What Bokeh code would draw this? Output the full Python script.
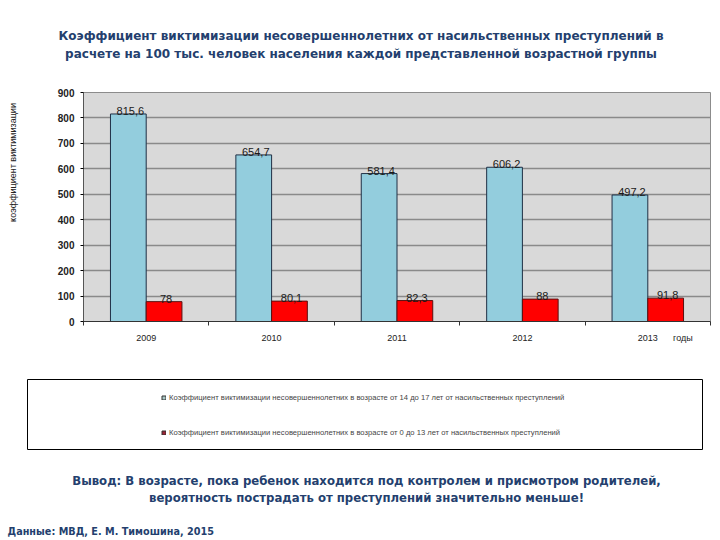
import numpy as np
from bokeh.plotting import figure
from bokeh.models import ColumnDataSource, Range1d, FixedTicker, Legend, LegendItem
from bokeh.transform import dodge
from bokeh.layouts import column, row
from bokeh.embed import file_html
from bokeh.resources import INLINE
from bokeh.core.properties import value

# ---------------- data ----------------
years = ["2009", "2010", "2011", "2012", "2013"]
teen_rate = [815.6, 654.7, 581.4, 606.2, 497.2]     # 14-17 лет
child_rate = [78, 80.1, 82.3, 88, 91.8]             # 0-13 лет
y_ticks = [0, 100, 200, 300, 400, 500, 600, 700, 800, 900]

title_lines = [
    "Коэффициент виктимизации несовершеннолетних от насильственных преступлений в",
    "расчете на 100 тыс. человек населения каждой представленной возрастной группы",
]
legend_labels = [
    "Коэффициент виктимизации несовершеннолетних в возрасте от 14 до 17 лет от насильственных преступлений",
    "Коэффициент виктимизации несовершеннолетних в возрасте от 0 до 13 лет от насильственных преступлений",
]
conclusion_lines = [
    "Вывод: В возрасте, пока ребенок находится под контролем и присмотром родителей,",
    "вероятность пострадать от преступлений значительно меньше!",
]
source_note = "Данные: МВД, Е. М. Тимошина, 2015"
y_axis_title = "коэффициент виктимизации"
x_axis_title = "годы"

# ---------------- styles ----------------
W = 720
HEAD_COLOR = "#243f6e"
HEAD_FONT = value("DejaVu Sans")
BODY_FONT_NAME = "Liberation Sans"
BODY_FONT = value(BODY_FONT_NAME)
BLUE = "#93cddd"
RED = "#ff0000"
BAR_W = 0.285
X_TITLE_POS = 4.78   # where the "годы" caption sits along the category axis


def fmt(v):
    return ("%g" % v).replace(".", ",")


def no_align(fig):
    if "frame_align" in fig.properties():
        fig.frame_align = False
    return fig


def blank(width, height, **kw):
    f = figure(width=width, height=height, x_range=Range1d(0, width), y_range=Range1d(0, height),
               x_axis_type=None, y_axis_type=None, min_border=0,
               output_backend="svg", toolbar_location=None, outline_line_color=None, **kw)
    return no_align(f)


# ---------------- title ----------------
tf = blank(W, 80)
tf.text(x=[360.5, 360.5], y=[45, 27], text=title_lines, text_font=HEAD_FONT,
        text_font_style="bold", text_font_size="12px", text_align="center",
        text_baseline="middle", text_color=HEAD_COLOR)

# ---------------- y axis caption ----------------
yl = blank(20, 272)
yl.text(x=[12], y=[190], text=[y_axis_title], angle=90, angle_units="deg",
        text_align="center", text_baseline="middle", text_font=BODY_FONT,
        text_font_size="9px", text_color="#222222")

# ---------------- main chart ----------------
centers = [i + 0.5 for i in range(len(years))]
src = ColumnDataSource(dict(
    x=centers, teen=teen_rate, child=child_rate,
    teen_lbl=[fmt(v) for v in teen_rate], child_lbl=[fmt(v) for v in child_rate],
))

p = figure(width=W - 20, height=272, x_range=Range1d(0, len(years)), y_range=Range1d(0, 900),
           output_backend="svg", toolbar_location=None,
           min_border_left=63, min_border_right=10, min_border_top=12, min_border_bottom=31,
           background_fill_color="#d9d9d9", outline_line_color="#8c8c8c")
no_align(p)

p.vbar(x=dodge("x", -BAR_W / 2), top="teen", width=BAR_W, source=src,
       fill_color=BLUE, line_color="#1f2f45", line_width=1)
p.vbar(x=dodge("x", BAR_W / 2), top="child", width=BAR_W, source=src,
       fill_color=RED, line_color="#5a1010", line_width=1)

p.text(x=dodge("x", -BAR_W / 2), y="teen", text="teen_lbl", source=src,
       text_align="center", text_baseline="bottom", y_offset=1, x_offset=2,
       text_font=BODY_FONT, text_font_size="11px", text_color="#1a1a1a")
p.text(x=dodge("x", BAR_W / 2), y="child", text="child_lbl", source=src,
       text_align="center", text_baseline="bottom", y_offset=1, x_offset=2,
       text_font=BODY_FONT, text_font_size="11px", text_color="#1a1a1a")

p.xgrid.visible = False
p.ygrid.ticker = FixedTicker(ticks=y_ticks)
p.ygrid.grid_line_color = "#8a8a8a"
p.ygrid.grid_line_width = 1.5

p.yaxis.ticker = FixedTicker(ticks=y_ticks)
p.yaxis.major_tick_out = 3
p.yaxis.major_tick_in = 0
p.yaxis.minor_tick_line_color = None
p.yaxis.major_label_standoff = 6
p.yaxis.major_label_text_font = BODY_FONT_NAME
p.yaxis.major_label_text_font_size = "10px"
p.yaxis.major_label_text_font_style = "bold"
p.yaxis.major_label_text_color = "#222222"
p.yaxis.axis_line_color = "#555555"

label_map = {c: y for c, y in zip(centers, years)}
label_map[X_TITLE_POS] = x_axis_title
p.xaxis.ticker = FixedTicker(ticks=centers + [X_TITLE_POS],
                             minor_ticks=list(range(len(years) + 1)))
p.xaxis.major_label_overrides = label_map
p.xaxis.major_tick_line_color = None
p.xaxis.major_tick_out = 0
p.xaxis.major_tick_in = 0
p.xaxis.minor_tick_out = 4
p.xaxis.minor_tick_in = 0
p.xaxis.minor_tick_line_color = "#333333"
p.xaxis.major_label_standoff = 7
p.xaxis.major_label_text_font = BODY_FONT_NAME
p.xaxis.major_label_text_font_size = "9px"
p.xaxis.major_label_text_color = "#222222"
p.xaxis.axis_line_color = "#333333"

# ---------------- legend box ----------------
lf = figure(width=W, height=108, x_range=Range1d(0, 1), y_range=Range1d(0, 1),
            x_axis_type=None, y_axis_type=None,
            min_border_left=27, min_border_right=18, min_border_top=27, min_border_bottom=11,
            output_backend="svg", toolbar_location=None,
            outline_line_color="black", outline_line_width=1)
no_align(lf)
nan = np.array([np.nan])
r1 = lf.vbar(x=nan, top=nan, width=0.1, fill_color="#a8c6c4", line_color="#333333")
r2 = lf.vbar(x=nan, top=nan, width=0.1, fill_color="#9b2335", line_color="#333333")
legend = Legend(items=[LegendItem(label=legend_labels[0], renderers=[r1]),
                       LegendItem(label=legend_labels[1], renderers=[r2])],
                location=(134, 12), padding=0, margin=0, border_line_color=None,
                background_fill_alpha=0, glyph_width=5, glyph_height=5,
                label_text_font=BODY_FONT_NAME, label_text_font_size="7.6px",
                label_height=9, spacing=26, label_standoff=3)
lf.add_layout(legend)

# ---------------- conclusion ----------------
bf = blank(W, 80)
bf.text(x=[366, 366], y=[60, 43], text=conclusion_lines, text_font=HEAD_FONT,
        text_font_style="bold", text_font_size="11.7px", text_align="center",
        text_baseline="middle", text_color=HEAD_COLOR)
bf.text(x=[7], y=[9], text=[source_note], text_font=HEAD_FONT,
        text_font_style="bold", text_font_size="9.7px", text_align="left",
        text_baseline="middle", text_color=HEAD_COLOR)

layout = column(tf, row(yl, p, spacing=0), lf, bf, spacing=0)
open("out.html", "w").write(file_html(layout, INLINE))
